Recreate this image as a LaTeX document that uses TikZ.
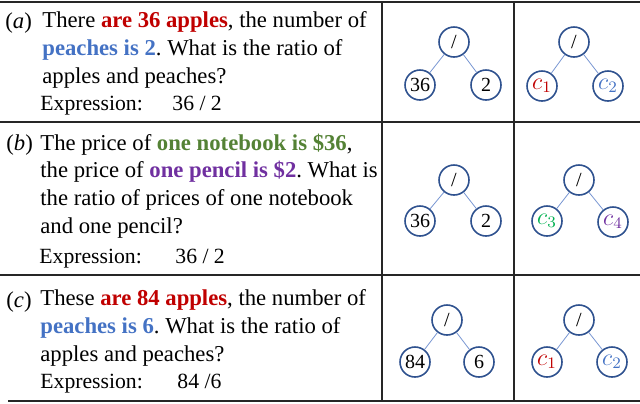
\documentclass[tikz,border=0pt]{standalone}
\usepackage{fontspec}
\setmainfont{Liberation Serif}
\usetikzlibrary{positioning}
\definecolor{applered}{RGB}{192,0,0}
\definecolor{peachblue}{RGB}{68,114,196}
\definecolor{bookgreen}{RGB}{84,130,53}
\definecolor{penpurple}{RGB}{112,48,160}
\definecolor{constgreen}{RGB}{0,176,80}
\definecolor{ringblue}{RGB}{47,82,143}
\definecolor{edgeblue}{RGB}{120,150,210}
\frenchspacing

\begin{document}
\begin{tikzpicture}[x=0.5pt, y=-0.5pt, font=\fontsize{11.35}{13.8}\selectfont]
      % Styles
      \tikzset{rule/.style={line width=1pt, black!85}}
      \tikzset{tag/.style={anchor=base west, inner sep=0pt}}
      \tikzset{exprtext/.style={tag, font=\fontsize{10.85}{13}\selectfont}}
      \tikzset{question/.style={anchor=base west, inner sep=0pt, align=left}}
      \tikzset{op/.style={draw=ringblue, line width=0.8pt, circle, minimum size=15pt, inner sep=0pt, font=\fontsize{10}{12}\selectfont}}
      \tikzset{constop/.style={op, font=\fontsize{11.5}{12}\selectfont}}
      \tikzset{branch/.style={draw=edgeblue, line width=0.4pt}}

      \useasboundingbox (0,0) rectangle (640,403);

      % --- Table rules ---
      \draw[rule] (0,2) -- (640,2);
      \draw[rule] (0,122) -- (640,122);
      \draw[rule] (0,275) -- (640,275);
      \draw[rule] (8,401) -- (640,401);
      \draw[rule] (382,2) -- (382,401);
      \draw[rule] (514,2) -- (514,401);

      % --- Row (a) (question node sits on its last line) ---
      \node[tag] (tag_a) at (5,28) {(\textit{a})};
      \node[question] (text_a) at (42,83) {There \textbf{\color{applered}are 36 apples}, the number of\\
        \textbf{\color{peachblue}peaches is 2}. What is the ratio of\\
        apples and peaches?};
      \node[exprtext] (expr_a) at (40,110) {Expression:};
      \node[exprtext] (val_a) at (172,110) {36 / 2};

      % --- Row (b) ---
      \node[tag] (tag_b) at (6,150) {(\textit{b})};
      \node[question] (text_b) at (40,233) {The price of \textbf{\color{bookgreen}one notebook is \$36},\\
        the price of \textbf{\color{penpurple}one pencil is \$2}. What is\\
        the ratio of prices of one notebook\\
        and one pencil?};
      \node[exprtext] (expr_b) at (39,263) {Expression:};
      \node[exprtext] (val_b) at (175,263) {36 / 2};

      % --- Row (c) ---
      \node[tag] (tag_c) at (6,307) {(\textit{c})};
      \node[question] (text_c) at (40,361) {These \textbf{\color{applered}are 84 apples}, the number of\\
        \textbf{\color{peachblue}peaches is 6}. What is the ratio of\\
        apples and peaches?};
      \node[exprtext] (expr_c) at (40,388) {Expression:};
      \node[exprtext] (val_c) at (177,388) {84 /6};

      % --- Expression trees ---
      \node[op] (a1_root) at (454,42) {/};
      \node[op] (a1_l) at (420,85) {36};
      \node[op] (a1_r) at (486,85) {2};
      \node[op] (a2_root) at (574,42) {/};
      \node[constop] (a2_l) at (542,86) {\color{applered}$c_1$};
      \node[constop] (a2_r) at (608,86) {\color{peachblue}$c_2$};

      \node[op] (b1_root) at (454,180) {/};
      \node[op] (b1_l) at (420,221) {36};
      \node[op] (b1_r) at (486,221) {2};
      \node[op] (b2_root) at (579,180) {/};
      \node[constop] (b2_l) at (547,221) {\color{constgreen}$c_3$};
      \node[constop] (b2_r) at (613,222) {\color{penpurple}$c_4$};

      \node[op] (c1_root) at (447,320) {/};
      \node[op] (c1_l) at (415,362) {84};
      \node[op] (c1_r) at (479,362) {6};
      \node[op] (c2_root) at (579,320) {/};
      \node[constop] (c2_l) at (547,362) {\color{applered}$c_1$};
      \node[constop] (c2_r) at (612,362) {\color{peachblue}$c_2$};

      \foreach \t in {a1,a2,b1,b2,c1,c2} {
        \draw[branch] (\t_root) -- (\t_l);
        \draw[branch] (\t_root) -- (\t_r);
      }

    \end{tikzpicture}
\end{document}
